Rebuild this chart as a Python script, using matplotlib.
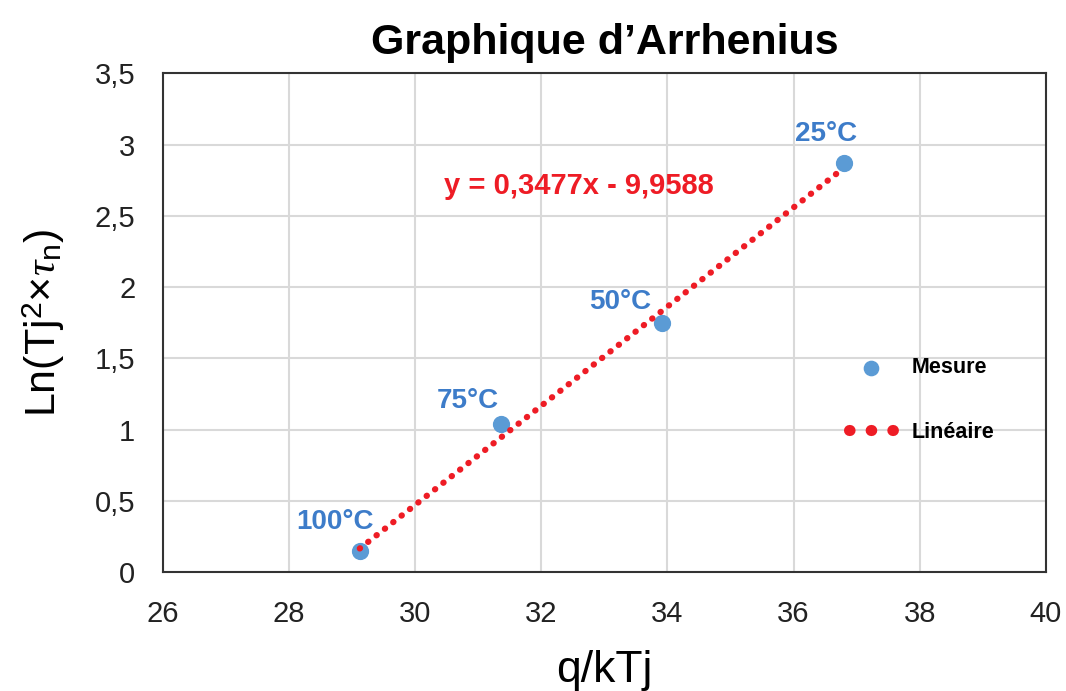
import matplotlib
matplotlib.use('Agg')
import matplotlib.pyplot as plt
from matplotlib.lines import Line2D
import numpy as np

plt.rcParams['font.family'] = ['Liberation Sans', 'DejaVu Sans']
plt.rcParams['mathtext.fontset'] = 'custom'
plt.rcParams['mathtext.rm'] = 'Liberation Sans'
plt.rcParams['mathtext.it'] = 'Liberation Serif:italic'

# data
x = [29.12, 31.36, 33.91, 36.80]
y = [0.147, 1.04, 1.746, 2.868]
labels = ['100°C', '75°C', '50°C', '25°C']
slope, intercept = 0.3477, -9.9588
eq_text = 'y = 0,3477x - 9,9588'
xticks = [26, 28, 30, 32, 34, 36, 38, 40]
yticks = [0, 0.5, 1, 1.5, 2, 2.5, 3, 3.5]

blue = '#5B9BD5'
red = '#EE1C25'

fig = plt.figure(figsize=(10.66, 6.91), dpi=100)
ax = fig.add_axes([0.153, 0.172, 0.828, 0.722])

xf = np.array([min(x), max(x)])
ax.plot(xf, slope * xf + intercept, linestyle=(0, (0.05, 1.65)), color=red,
        linewidth=4.5, dash_capstyle='round', zorder=3)
pts = ax.scatter(x, y, s=130, color=blue, zorder=2)

offs = [(-18, 12), (-24, 7), (-30, 6), (-13, 12)]
for xi, yi, lab, o in zip(x, y, labels, offs):
    ax.annotate(lab, (xi, yi), xytext=o, textcoords='offset points',
                ha='center', va='bottom',
                color='#3D7CC9', fontsize=20, fontweight='bold')

ax.text(30.45, 2.65, eq_text, color=red, fontsize=21, fontweight='bold')

ax.set_xlim(26, 40)
ax.set_ylim(0, 3.5)
ax.set_xticks(xticks)
ax.set_yticks(yticks)
ax.set_xticklabels([str(t) for t in xticks])
ax.set_yticklabels([('%g' % t).replace('.', ',') for t in yticks])
ax.tick_params(labelsize=21, length=0, colors='#222222')
ax.tick_params(axis='x', pad=20)
ax.tick_params(axis='y', pad=20)
ax.grid(True, color='#D9D9D9', linewidth=1.5)
ax.set_axisbelow(True)
for s in ax.spines.values():
    s.set_linewidth(1.5)
    s.set_color('#333333')

ax.set_title("Graphique d’Arrhenius", fontsize=31, fontweight='bold', pad=14)
ax.set_xlabel('q/kTj', fontsize=32, labelpad=16)
ax.set_ylabel(r'Ln(Tj$^{2}$×$\tau_{\mathrm{n}}$)', fontsize=31, labelpad=20)

# legend handles
fit_handle = Line2D([], [], color=red, linestyle=(0, (0.05, 1.9)), linewidth=8,
                    dash_capstyle='round')
leg = ax.legend([pts, fit_handle], ['Mesure', 'Linéaire'], loc='center left',
                bbox_to_anchor=(0.755, 0.345), frameon=False, fontsize=15.5,
                labelspacing=2.0, handlelength=2.1, markerscale=0.9)
for t in leg.get_texts():
    t.set_fontweight('bold')

fig.savefig('out.png', dpi=100)
